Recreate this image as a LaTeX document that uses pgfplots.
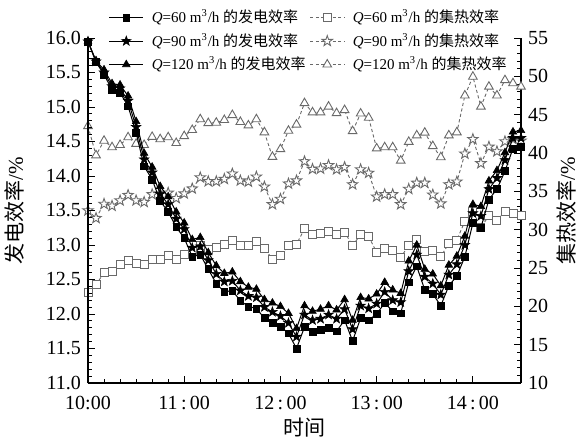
\documentclass[border=0pt]{standalone}
\usepackage{fontspec}
\setmainfont{Liberation Serif}
\newfontfamily\cjk{Noto Sans CJK SC}
\usepackage{pgfplots}
\usepackage{pgfplotstable}
\pgfplotsset{compat=1.18}

\pgfdeclareplotmark{fstar}{%
  \pgfpathmoveto{\pgfpointpolar{90}{1.25\pgfplotmarksize}}%
  \pgfpathlineto{\pgfpointpolar{126}{0.5\pgfplotmarksize}}%
  \pgfpathlineto{\pgfpointpolar{162}{1.25\pgfplotmarksize}}%
  \pgfpathlineto{\pgfpointpolar{198}{0.5\pgfplotmarksize}}%
  \pgfpathlineto{\pgfpointpolar{234}{1.25\pgfplotmarksize}}%
  \pgfpathlineto{\pgfpointpolar{270}{0.5\pgfplotmarksize}}%
  \pgfpathlineto{\pgfpointpolar{306}{1.25\pgfplotmarksize}}%
  \pgfpathlineto{\pgfpointpolar{342}{0.5\pgfplotmarksize}}%
  \pgfpathlineto{\pgfpointpolar{18}{1.25\pgfplotmarksize}}%
  \pgfpathlineto{\pgfpointpolar{54}{0.5\pgfplotmarksize}}%
  \pgfpathclose
  \pgfusepathqfillstroke
}

\definecolor{cgray}{RGB}{105,105,105}

\pgfplotstableread{
t p60 p90 p120 c60 c90 c120
0 15.95 15.95 15.95 21.8 32.5 43.5
5 15.65 15.66 15.67 22.8 31.5 39.7
10 15.47 15.50 15.54 24.4 33.35 41.6
15 15.25 15.30 15.34 24.6 33.1 40.75
20 15.21 15.27 15.32 25.4 33.8 41.05
25 15.01 15.09 15.16 26.0 34.5 42.05
30 14.63 14.71 14.79 25.6 33.8 41.2
35 14.14 14.24 14.33 25.4 33.6 41.05
40 13.95 14.05 14.13 26.1 34.6 42.1
45 13.64 13.74 13.85 26.1 34.7 41.8
50 13.48 13.59 13.70 26.6 34.8 42.05
55 13.26 13.38 13.48 26.1 34.1 41.3
60 13.10 13.23 13.32 26.8 34.7 42.2
65 12.83 12.96 13.08 27.3 35.35 43.0
70 12.86 12.98 13.11 28.0 36.8 44.4
75 12.65 12.78 12.89 27.4 36.3 43.9
80 12.44 12.58 12.70 27.65 36.3 43.95
85 12.32 12.47 12.59 28.1 36.6 44.3
90 12.34 12.48 12.61 28.6 37.3 44.95
95 12.19 12.34 12.47 28.0 36.4 44.05
100 12.11 12.26 12.39 27.9 36.25 43.6
105 12.08 12.24 12.36 28.45 36.9 44.4
110 11.94 12.10 12.21 27.6 35.6 42.7
115 11.87 12.03 12.16 26.15 33.3 39.5
120 11.82 11.97 12.11 26.6 34.0 40.5
125 11.72 11.87 12.01 27.9 36.0 42.9
130 11.50 11.67 11.79 28.1 36.4 43.7
135 11.81 11.99 12.12 30.1 38.9 46.5
140 11.74 11.91 12.04 29.4 37.9 45.3
145 11.77 11.93 12.07 29.5 37.95 45.3
150 11.80 11.99 12.12 29.8 38.4 46.05
155 11.75 11.93 12.06 29.4 37.85 45.2
160 11.91 12.07 12.21 29.7 38.15 45.6
165 11.61 11.78 11.91 27.9 35.9 42.85
170 11.94 12.12 12.24 29.4 37.85 45.15
175 11.91 12.08 12.22 29.1 37.4 44.6
180 12.00 12.15 12.29 27.05 34.3 40.6
185 12.16 12.32 12.46 27.5 34.6 40.75
190 12.04 12.20 12.35 27.35 34.6 40.75
195 12.01 12.17 12.30 26.35 33.3 39.0
200 12.46 12.62 12.77 28.0 35.3 41.45
205 12.69 12.86 13.00 28.7 36.1 42.3
210 12.35 12.54 12.65 27.1 36.1 42.65
215 12.29 12.44 12.58 27.25 34.55 40.9
220 12.12 12.28 12.41 26.5 33.4 39.45
225 12.41 12.57 12.71 28.2 35.9 42.3
230 12.55 12.72 12.84 28.65 36.25 42.7
235 12.83 13.00 13.13 31.1 39.9 47.5
240 13.32 13.46 13.59 32.4 41.8 49.95
245 13.25 13.42 13.56 30.3 38.65 46.05
250 13.66 13.81 13.93 31.8 40.8 48.65
255 13.81 13.97 14.08 31.25 40.2 47.5
260 14.07 14.23 14.34 32.35 41.5 49.5
265 14.40 14.55 14.64 32.1 41.8 49.1
270 14.42 14.55 14.66 31.9 41.6 48.65
}\data

\pgfplotsset{
  pw/.style={black, line width=0.5pt, mark options={solid, line width=0.3pt, fill=black}},
  p60/.style={pw, mark=square*, mark size=1.7pt},
  p90/.style={pw, mark=fstar, mark size=2.0pt},
  p120/.style={pw, mark=triangle*, mark size=2.2pt},
  cl/.style={cgray, line width=0.45pt, dash pattern=on 1.6pt off 1.2pt, mark options={solid, line width=0.45pt, fill=white, draw=cgray}},
  c60/.style={cl, mark=square*, mark size=2pt},
  c90/.style={cl, mark=fstar, mark size=2.2pt},
  c120/.style={cl, mark=triangle*, mark size=2.5pt},
  common/.style={
    width=216.5pt, height=172.5pt, scale only axis,
    xmin=0, xmax=270, clip=false,
    tick align=inside,
    major tick length=3.5pt, minor tick length=2pt,
    /pgf/number format/assume math mode=true,
    tick label style={font=\fontsize{10}{12}\selectfont},
    label style={font=\fontsize{10.5}{12}\selectfont},
    every tick/.style={black, line width=0.5pt},
    axis line style={line width=0.6pt},
  },
}

\begin{document}
\begin{tikzpicture}
% collector efficiency (right axis)
\begin{axis}[common,
  axis x line=none, axis y line*=right,
  ymin=10, ymax=55, ytick={10,15,...,55}, minor y tick num=4,
  ylabel={{\cjk 集热效率}/\%},
  ylabel style={at={(axis description cs:1.106,0.5)}, anchor=center},
]
\addplot[c60] table[x=t, y=c60] {\data};
\addplot[c90] table[x=t, y=c90] {\data};
\addplot[c120] table[x=t, y=c120] {\data};
\end{axis}
% power efficiency (left axis)
\begin{axis}[common,
  axis x line*=bottom, axis y line*=left,
  ymin=11, ymax=16, ytick={11,11.5,...,16}, minor y tick num=4,
  yticklabel style={/pgf/number format/.cd, fixed, fixed zerofill, precision=1},
  xtick={0,60,120,180,240},
  xticklabels={10:00, 11\,:\,00, 12\,:\,00, 13\,:\,00, 14\,:\,00},
  xticklabel style={yshift=-3pt},
  minor x tick num=5,
  ylabel={{\cjk 发电效率}/\%},
  ylabel style={at={(axis description cs:-0.169,0.5)}, anchor=center},
  xlabel={{\cjk 时间}},
  xlabel style={at={(axis description cs:0.5,-0.13)}, anchor=center},
  legend columns=2,
  legend cell align=left,
  legend style={draw=none, fill=none, font=\fontsize{7.5}{9}\selectfont,
    at={(axis description cs:0.512,0.991)}, anchor=center,
    row sep=-0.3pt,
    /tikz/every odd column/.append style={column sep=2pt}},
]
\addplot[p60] table[x=t, y=p60] {\data};
\addlegendentry{\textit{Q}=60 m\textsuperscript{3}/h {\cjk 的发电效率}}
\addlegendimage{c60}
\addlegendentry{\textit{Q}=60 m\textsuperscript{3}/h\ {\cjk 的集热效率}}
\addplot[p90] table[x=t, y=p90] {\data};
\addlegendentry{\textit{Q}=90 m\textsuperscript{3}/h {\cjk 的发电效率}}
\addlegendimage{c90}
\addlegendentry{\textit{Q}=90 m\textsuperscript{3}/h\ {\cjk 的集热效率}}
\addplot[p120] table[x=t, y=p120] {\data};
\addlegendentry{\textit{Q}=120 m\textsuperscript{3}/h {\cjk 的发电效率}}
\addlegendimage{c120}
\addlegendentry{\textit{Q}=120 m\textsuperscript{3}/h {\cjk 的集热效率}}
\end{axis}
\pgfresetboundingbox
\path[use as bounding box] (-44pt,-31pt) rectangle (245.5pt,191.5pt);
\end{tikzpicture}
\end{document}
